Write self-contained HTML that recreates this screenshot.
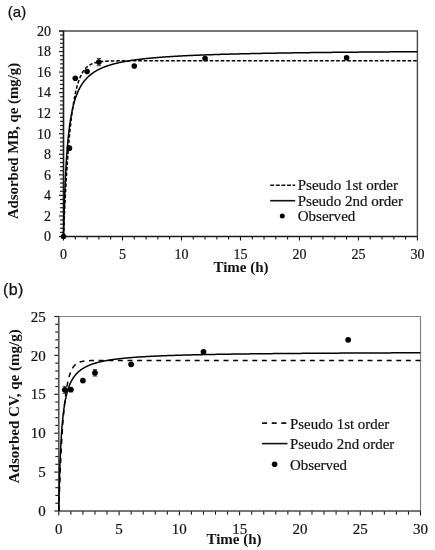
<!DOCTYPE html>
<html><head><meta charset="utf-8"><style>
html,body{margin:0;padding:0;background:#fff;width:435px;height:550px;overflow:hidden}
svg{display:block;will-change:transform}
.t{font-family:"Liberation Serif",serif;font-size:14px;fill:#111;stroke:#111;stroke-width:0.2px}
.h{font-family:"Liberation Sans",sans-serif;font-size:15px;fill:#111;stroke:#111;stroke-width:0.25px}
.yl{font-family:"Liberation Serif",serif;font-size:15px;font-weight:bold;fill:#111}
.lg{font-family:"Liberation Serif",serif;font-size:15.05px;fill:#111;stroke:#111;stroke-width:0.2px}
.xl{font-family:"Liberation Serif",serif;font-size:15px;font-weight:bold;fill:#111}
</style></head><body>
<svg width="435" height="550" viewBox="0 0 435 550">
<path d="M59.00 31.00H417.40V236.50" fill="none" stroke="#4a4a4a" stroke-width="1.4"/>
<line x1="59.00" y1="236.50" x2="63.50" y2="236.50" stroke="#222" stroke-width="1.2"/>
<line x1="60.00" y1="232.39" x2="63.50" y2="232.39" stroke="#222" stroke-width="1.2"/>
<line x1="60.00" y1="228.28" x2="63.50" y2="228.28" stroke="#222" stroke-width="1.2"/>
<line x1="60.00" y1="224.17" x2="63.50" y2="224.17" stroke="#222" stroke-width="1.2"/>
<line x1="60.00" y1="220.06" x2="63.50" y2="220.06" stroke="#222" stroke-width="1.2"/>
<line x1="59.00" y1="215.95" x2="63.50" y2="215.95" stroke="#222" stroke-width="1.2"/>
<line x1="60.00" y1="211.84" x2="63.50" y2="211.84" stroke="#222" stroke-width="1.2"/>
<line x1="60.00" y1="207.73" x2="63.50" y2="207.73" stroke="#222" stroke-width="1.2"/>
<line x1="60.00" y1="203.62" x2="63.50" y2="203.62" stroke="#222" stroke-width="1.2"/>
<line x1="60.00" y1="199.51" x2="63.50" y2="199.51" stroke="#222" stroke-width="1.2"/>
<line x1="59.00" y1="195.40" x2="63.50" y2="195.40" stroke="#222" stroke-width="1.2"/>
<line x1="60.00" y1="191.29" x2="63.50" y2="191.29" stroke="#222" stroke-width="1.2"/>
<line x1="60.00" y1="187.18" x2="63.50" y2="187.18" stroke="#222" stroke-width="1.2"/>
<line x1="60.00" y1="183.07" x2="63.50" y2="183.07" stroke="#222" stroke-width="1.2"/>
<line x1="60.00" y1="178.96" x2="63.50" y2="178.96" stroke="#222" stroke-width="1.2"/>
<line x1="59.00" y1="174.85" x2="63.50" y2="174.85" stroke="#222" stroke-width="1.2"/>
<line x1="60.00" y1="170.74" x2="63.50" y2="170.74" stroke="#222" stroke-width="1.2"/>
<line x1="60.00" y1="166.63" x2="63.50" y2="166.63" stroke="#222" stroke-width="1.2"/>
<line x1="60.00" y1="162.52" x2="63.50" y2="162.52" stroke="#222" stroke-width="1.2"/>
<line x1="60.00" y1="158.41" x2="63.50" y2="158.41" stroke="#222" stroke-width="1.2"/>
<line x1="59.00" y1="154.30" x2="63.50" y2="154.30" stroke="#222" stroke-width="1.2"/>
<line x1="60.00" y1="150.19" x2="63.50" y2="150.19" stroke="#222" stroke-width="1.2"/>
<line x1="60.00" y1="146.08" x2="63.50" y2="146.08" stroke="#222" stroke-width="1.2"/>
<line x1="60.00" y1="141.97" x2="63.50" y2="141.97" stroke="#222" stroke-width="1.2"/>
<line x1="60.00" y1="137.86" x2="63.50" y2="137.86" stroke="#222" stroke-width="1.2"/>
<line x1="59.00" y1="133.75" x2="63.50" y2="133.75" stroke="#222" stroke-width="1.2"/>
<line x1="60.00" y1="129.64" x2="63.50" y2="129.64" stroke="#222" stroke-width="1.2"/>
<line x1="60.00" y1="125.53" x2="63.50" y2="125.53" stroke="#222" stroke-width="1.2"/>
<line x1="60.00" y1="121.42" x2="63.50" y2="121.42" stroke="#222" stroke-width="1.2"/>
<line x1="60.00" y1="117.31" x2="63.50" y2="117.31" stroke="#222" stroke-width="1.2"/>
<line x1="59.00" y1="113.20" x2="63.50" y2="113.20" stroke="#222" stroke-width="1.2"/>
<line x1="60.00" y1="109.09" x2="63.50" y2="109.09" stroke="#222" stroke-width="1.2"/>
<line x1="60.00" y1="104.98" x2="63.50" y2="104.98" stroke="#222" stroke-width="1.2"/>
<line x1="60.00" y1="100.87" x2="63.50" y2="100.87" stroke="#222" stroke-width="1.2"/>
<line x1="60.00" y1="96.76" x2="63.50" y2="96.76" stroke="#222" stroke-width="1.2"/>
<line x1="59.00" y1="92.65" x2="63.50" y2="92.65" stroke="#222" stroke-width="1.2"/>
<line x1="60.00" y1="88.54" x2="63.50" y2="88.54" stroke="#222" stroke-width="1.2"/>
<line x1="60.00" y1="84.43" x2="63.50" y2="84.43" stroke="#222" stroke-width="1.2"/>
<line x1="60.00" y1="80.32" x2="63.50" y2="80.32" stroke="#222" stroke-width="1.2"/>
<line x1="60.00" y1="76.21" x2="63.50" y2="76.21" stroke="#222" stroke-width="1.2"/>
<line x1="59.00" y1="72.10" x2="63.50" y2="72.10" stroke="#222" stroke-width="1.2"/>
<line x1="60.00" y1="67.99" x2="63.50" y2="67.99" stroke="#222" stroke-width="1.2"/>
<line x1="60.00" y1="63.88" x2="63.50" y2="63.88" stroke="#222" stroke-width="1.2"/>
<line x1="60.00" y1="59.77" x2="63.50" y2="59.77" stroke="#222" stroke-width="1.2"/>
<line x1="60.00" y1="55.66" x2="63.50" y2="55.66" stroke="#222" stroke-width="1.2"/>
<line x1="59.00" y1="51.55" x2="63.50" y2="51.55" stroke="#222" stroke-width="1.2"/>
<line x1="60.00" y1="47.44" x2="63.50" y2="47.44" stroke="#222" stroke-width="1.2"/>
<line x1="60.00" y1="43.33" x2="63.50" y2="43.33" stroke="#222" stroke-width="1.2"/>
<line x1="60.00" y1="39.22" x2="63.50" y2="39.22" stroke="#222" stroke-width="1.2"/>
<line x1="60.00" y1="35.11" x2="63.50" y2="35.11" stroke="#222" stroke-width="1.2"/>
<line x1="59.00" y1="31.00" x2="63.50" y2="31.00" stroke="#222" stroke-width="1.2"/>
<line x1="63.50" y1="236.50" x2="63.50" y2="240.50" stroke="#000" stroke-width="1"/>
<line x1="75.30" y1="236.50" x2="75.30" y2="239.50" stroke="#000" stroke-width="1"/>
<line x1="87.09" y1="236.50" x2="87.09" y2="239.50" stroke="#000" stroke-width="1"/>
<line x1="98.89" y1="236.50" x2="98.89" y2="239.50" stroke="#000" stroke-width="1"/>
<line x1="110.69" y1="236.50" x2="110.69" y2="239.50" stroke="#000" stroke-width="1"/>
<line x1="122.48" y1="236.50" x2="122.48" y2="240.50" stroke="#000" stroke-width="1"/>
<line x1="134.28" y1="236.50" x2="134.28" y2="239.50" stroke="#000" stroke-width="1"/>
<line x1="146.08" y1="236.50" x2="146.08" y2="239.50" stroke="#000" stroke-width="1"/>
<line x1="157.87" y1="236.50" x2="157.87" y2="239.50" stroke="#000" stroke-width="1"/>
<line x1="169.67" y1="236.50" x2="169.67" y2="239.50" stroke="#000" stroke-width="1"/>
<line x1="181.47" y1="236.50" x2="181.47" y2="240.50" stroke="#000" stroke-width="1"/>
<line x1="193.26" y1="236.50" x2="193.26" y2="239.50" stroke="#000" stroke-width="1"/>
<line x1="205.06" y1="236.50" x2="205.06" y2="239.50" stroke="#000" stroke-width="1"/>
<line x1="216.86" y1="236.50" x2="216.86" y2="239.50" stroke="#000" stroke-width="1"/>
<line x1="228.65" y1="236.50" x2="228.65" y2="239.50" stroke="#000" stroke-width="1"/>
<line x1="240.45" y1="236.50" x2="240.45" y2="240.50" stroke="#000" stroke-width="1"/>
<line x1="252.25" y1="236.50" x2="252.25" y2="239.50" stroke="#000" stroke-width="1"/>
<line x1="264.04" y1="236.50" x2="264.04" y2="239.50" stroke="#000" stroke-width="1"/>
<line x1="275.84" y1="236.50" x2="275.84" y2="239.50" stroke="#000" stroke-width="1"/>
<line x1="287.64" y1="236.50" x2="287.64" y2="239.50" stroke="#000" stroke-width="1"/>
<line x1="299.43" y1="236.50" x2="299.43" y2="240.50" stroke="#000" stroke-width="1"/>
<line x1="311.23" y1="236.50" x2="311.23" y2="239.50" stroke="#000" stroke-width="1"/>
<line x1="323.03" y1="236.50" x2="323.03" y2="239.50" stroke="#000" stroke-width="1"/>
<line x1="334.82" y1="236.50" x2="334.82" y2="239.50" stroke="#000" stroke-width="1"/>
<line x1="346.62" y1="236.50" x2="346.62" y2="239.50" stroke="#000" stroke-width="1"/>
<line x1="358.42" y1="236.50" x2="358.42" y2="240.50" stroke="#000" stroke-width="1"/>
<line x1="370.21" y1="236.50" x2="370.21" y2="239.50" stroke="#000" stroke-width="1"/>
<line x1="382.01" y1="236.50" x2="382.01" y2="239.50" stroke="#000" stroke-width="1"/>
<line x1="393.81" y1="236.50" x2="393.81" y2="239.50" stroke="#000" stroke-width="1"/>
<line x1="405.60" y1="236.50" x2="405.60" y2="239.50" stroke="#000" stroke-width="1"/>
<line x1="417.40" y1="236.50" x2="417.40" y2="240.50" stroke="#000" stroke-width="1"/>
<path d="M63.50 31.00V236.50H417.40" fill="none" stroke="#1a1a1a" stroke-width="1.6"/>
<text x="51.00" y="241.33" text-anchor="end" class="t" style="font-size:14px">0</text>
<text x="51.00" y="220.78" text-anchor="end" class="t" style="font-size:14px">2</text>
<text x="51.00" y="200.23" text-anchor="end" class="t" style="font-size:14px">4</text>
<text x="51.00" y="179.68" text-anchor="end" class="t" style="font-size:14px">6</text>
<text x="51.00" y="159.13" text-anchor="end" class="t" style="font-size:14px">8</text>
<text x="51.00" y="138.58" text-anchor="end" class="t" style="font-size:14px">10</text>
<text x="51.00" y="118.03" text-anchor="end" class="t" style="font-size:14px">12</text>
<text x="51.00" y="97.48" text-anchor="end" class="t" style="font-size:14px">14</text>
<text x="51.00" y="76.93" text-anchor="end" class="t" style="font-size:14px">16</text>
<text x="51.00" y="56.38" text-anchor="end" class="t" style="font-size:14px">18</text>
<text x="51.00" y="35.83" text-anchor="end" class="t" style="font-size:14px">20</text>
<text x="63.50" y="259.40" text-anchor="middle" class="t" style="font-size:14px">0</text>
<text x="122.48" y="259.40" text-anchor="middle" class="t" style="font-size:14px">5</text>
<text x="181.47" y="259.40" text-anchor="middle" class="t" style="font-size:14px">10</text>
<text x="240.45" y="259.40" text-anchor="middle" class="t" style="font-size:14px">15</text>
<text x="299.43" y="259.40" text-anchor="middle" class="t" style="font-size:14px">20</text>
<text x="358.42" y="259.40" text-anchor="middle" class="t" style="font-size:14px">25</text>
<text x="417.40" y="259.40" text-anchor="middle" class="t" style="font-size:14px">30</text>
<polyline points="63.50,236.50 63.50,236.49 63.50,236.44 63.50,236.36 63.51,236.24 63.51,236.08 63.51,235.88 63.52,235.63 63.53,235.33 63.53,234.99 63.54,234.60 63.55,234.16 63.56,233.67 63.58,233.13 63.59,232.55 63.61,231.92 63.62,231.24 63.64,230.52 63.66,229.74 63.68,228.92 63.70,228.06 63.72,227.15 63.75,226.20 63.77,225.20 63.80,224.17 63.83,223.09 63.85,221.98 63.89,220.83 63.92,219.64 63.95,218.42 63.99,217.16 64.02,215.87 64.06,214.56 64.10,213.21 64.14,211.84 64.18,210.44 64.23,209.02 64.27,207.58 64.32,206.11 64.37,204.63 64.42,203.13 64.47,201.61 64.52,200.08 64.57,198.54 64.63,196.99 64.69,195.43 64.74,193.86 64.80,192.28 64.87,190.70 64.93,189.11 65.00,187.52 65.06,185.93 65.13,184.34 65.20,182.74 65.27,181.16 65.34,179.57 65.42,177.99 65.49,176.41 65.57,174.84 65.65,173.28 65.73,171.72 65.82,170.17 65.90,168.63 65.99,167.10 66.07,165.59 66.16,164.08 66.25,162.58 66.35,161.10 66.44,159.63 66.54,158.17 66.63,156.72 66.73,155.29 66.83,153.88 66.94,152.47 67.04,151.09 67.15,149.72 67.26,148.36 67.37,147.02 67.48,145.69 67.59,144.38 67.70,143.09 67.82,141.81 67.94,140.55 68.06,139.31 68.18,138.08 68.30,136.86 68.43,135.67 68.56,134.49 68.69,133.32 68.82,132.17 68.95,131.04 69.08,129.92 69.22,128.82 69.36,127.74 69.50,126.67 69.64,125.62 69.78,124.58 69.92,123.56 70.07,122.55 70.22,121.56 70.37,120.58 70.52,119.62 70.68,118.67 70.83,117.74 70.99,116.82 71.15,115.92 71.31,115.03 71.47,114.15 71.64,113.29 71.80,112.44 71.97,111.60 72.14,110.78 72.32,109.97 72.49,109.17 72.67,108.39 72.84,107.61 73.02,106.85 73.20,106.11 73.39,105.37 73.57,104.65 73.76,103.93 73.95,103.23 74.14,102.54 74.33,101.86 74.53,101.19 74.72,100.53 74.92,99.88 75.12,99.25 75.33,98.62 75.53,98.00 75.74,97.39 75.94,96.80 76.15,96.21 76.37,95.63 76.58,95.06 76.79,94.50 77.01,93.94 77.23,93.40 77.45,92.86 77.68,92.34 77.90,91.82 78.13,91.31 78.36,90.81 78.59,90.31 78.82,89.82 79.06,89.34 79.30,88.87 79.53,88.41 79.78,87.95 80.02,87.50 80.26,87.06 80.51,86.62 80.76,86.19 81.01,85.76 81.26,85.35 81.52,84.94 81.77,84.53 82.03,84.13 82.29,83.74 82.56,83.35 82.82,82.97 83.09,82.60 83.36,82.23 83.63,81.87 83.90,81.51 84.17,81.15 84.45,80.81 84.73,80.46 85.01,80.12 85.29,79.79 85.58,79.46 85.86,79.14 86.15,78.82 86.44,78.51 86.74,78.20 87.03,77.89 87.33,77.59 87.63,77.30 87.93,77.00 88.23,76.72 88.53,76.43 88.84,76.15 89.15,75.88 89.46,75.60 89.78,75.34 90.09,75.07 90.41,74.81 90.73,74.55 91.05,74.30 91.37,74.05 91.70,73.80 92.02,73.56 92.35,73.32 92.69,73.08 93.02,72.85 93.36,72.62 93.69,72.39 94.03,72.17 94.38,71.95 94.72,71.73 95.07,71.52 95.41,71.30 95.76,71.09 96.12,70.89 96.47,70.68 96.83,70.48 97.19,70.28 97.55,70.09 97.91,69.89 98.28,69.70 98.64,69.51 99.01,69.33 99.38,69.14 99.76,68.96 100.13,68.78 100.51,68.61 100.89,68.43 101.27,68.26 101.66,68.09 102.04,67.92 102.43,67.76 102.82,67.59 103.21,67.43 103.61,67.27 104.00,67.11 104.40,66.96 104.80,66.80 105.21,66.65 105.61,66.50 106.02,66.35 106.43,66.21 106.84,66.06 107.25,65.92 107.67,65.78 108.09,65.64 108.51,65.50 108.93,65.37 109.36,65.23 109.78,65.10 110.21,64.97 110.64,64.84 111.08,64.71 111.51,64.58 111.95,64.46 112.39,64.33 112.83,64.21 113.27,64.09 113.72,63.97 114.17,63.85 114.62,63.73 115.07,63.62 115.53,63.50 115.98,63.39 116.44,63.28 116.91,63.17 117.37,63.06 117.83,62.95 118.30,62.85 118.77,62.74 119.25,62.64 119.72,62.53 120.20,62.43 120.68,62.33 121.16,62.23 121.64,62.13 122.13,62.03 122.61,61.94 123.10,61.84 123.60,61.75 124.09,61.65 124.59,61.56 125.09,61.47 125.59,61.38 126.09,61.29 126.60,61.20 127.10,61.11 127.61,61.03 128.13,60.94 128.64,60.86 129.16,60.77 129.68,60.69 130.20,60.61 130.72,60.52 131.25,60.44 131.77,60.36 132.30,60.29 132.84,60.21 133.37,60.13 133.91,60.05 134.45,59.98 134.99,59.90 135.53,59.83 136.08,59.76 136.62,59.68 137.17,59.61 137.73,59.54 138.28,59.47 138.84,59.40 139.40,59.33 139.96,59.26 140.52,59.19 141.09,59.13 141.66,59.06 142.23,58.99 142.80,58.93 143.37,58.86 143.95,58.80 144.53,58.74 145.11,58.67 145.70,58.61 146.28,58.55 146.87,58.49 147.46,58.43 148.06,58.37 148.65,58.31 149.25,58.25 149.85,58.19 150.45,58.14 151.06,58.08 151.66,58.02 152.27,57.97 152.88,57.91 153.50,57.86 154.11,57.80 154.73,57.75 155.35,57.70 155.98,57.64 156.60,57.59 157.23,57.54 157.86,57.49 158.49,57.44 159.12,57.39 159.76,57.34 160.40,57.29 161.04,57.24 161.69,57.19 162.33,57.14 162.98,57.09 163.63,57.05 164.28,57.00 164.94,56.95 165.60,56.91 166.26,56.86 166.92,56.82 167.58,56.77 168.25,56.73 168.92,56.68 169.59,56.64 170.26,56.59 170.94,56.55 171.62,56.51 172.30,56.47 172.98,56.42 173.67,56.38 174.35,56.34 175.05,56.30 175.74,56.26 176.43,56.22 177.13,56.18 177.83,56.14 178.53,56.10 179.23,56.06 179.94,56.02 180.65,55.99 181.36,55.95 182.07,55.91 182.79,55.87 183.51,55.84 184.23,55.80 184.95,55.76 185.68,55.73 186.41,55.69 187.14,55.66 187.87,55.62 188.60,55.59 189.34,55.55 190.08,55.52 190.82,55.48 191.56,55.45 192.31,55.42 193.06,55.38 193.81,55.35 194.57,55.32 195.32,55.29 196.08,55.25 196.84,55.22 197.60,55.19 198.37,55.16 199.14,55.13 199.91,55.10 200.68,55.07 201.45,55.04 202.23,55.01 203.01,54.98 203.79,54.95 204.58,54.92 205.37,54.89 206.15,54.86 206.95,54.83 207.74,54.80 208.54,54.77 209.34,54.75 210.14,54.72 210.94,54.69 211.75,54.66 212.56,54.64 213.37,54.61 214.18,54.58 215.00,54.55 215.81,54.53 216.63,54.50 217.46,54.48 218.28,54.45 219.11,54.42 219.94,54.40 220.77,54.37 221.61,54.35 222.45,54.32 223.28,54.30 224.13,54.27 224.97,54.25 225.82,54.23 226.67,54.20 227.52,54.18 228.37,54.15 229.23,54.13 230.09,54.11 230.95,54.08 231.82,54.06 232.68,54.04 233.55,54.02 234.42,53.99 235.30,53.97 236.17,53.95 237.05,53.93 237.93,53.91 238.81,53.88 239.70,53.86 240.59,53.84 241.48,53.82 242.37,53.80 243.27,53.78 244.17,53.76 245.07,53.74 245.97,53.72 246.87,53.70 247.78,53.67 248.69,53.65 249.61,53.63 250.52,53.61 251.44,53.60 252.36,53.58 253.28,53.56 254.21,53.54 255.13,53.52 256.06,53.50 257.00,53.48 257.93,53.46 258.87,53.44 259.81,53.42 260.75,53.41 261.69,53.39 262.64,53.37 263.59,53.35 264.54,53.33 265.50,53.32 266.45,53.30 267.41,53.28 268.37,53.26 269.34,53.25 270.31,53.23 271.28,53.21 272.25,53.19 273.22,53.18 274.20,53.16 275.18,53.14 276.16,53.13 277.14,53.11 278.13,53.10 279.12,53.08 280.11,53.06 281.10,53.05 282.10,53.03 283.10,53.02 284.10,53.00 285.11,52.98 286.11,52.97 287.12,52.95 288.13,52.94 289.15,52.92 290.16,52.91 291.18,52.89 292.20,52.88 293.23,52.86 294.25,52.85 295.28,52.83 296.31,52.82 297.35,52.80 298.38,52.79 299.42,52.78 300.46,52.76 301.51,52.75 302.55,52.73 303.60,52.72 304.65,52.71 305.71,52.69 306.76,52.68 307.82,52.67 308.88,52.65 309.95,52.64 311.02,52.62 312.08,52.61 313.16,52.60 314.23,52.59 315.31,52.57 316.39,52.56 317.47,52.55 318.55,52.53 319.64,52.52 320.73,52.51 321.82,52.50 322.91,52.48 324.01,52.47 325.11,52.46 326.21,52.45 327.31,52.43 328.42,52.42 329.53,52.41 330.64,52.40 331.76,52.39 332.87,52.37 333.99,52.36 335.11,52.35 336.24,52.34 337.37,52.33 338.50,52.32 339.63,52.31 340.76,52.29 341.90,52.28 343.04,52.27 344.18,52.26 345.33,52.25 346.47,52.24 347.62,52.23 348.78,52.22 349.93,52.21 351.09,52.20 352.25,52.18 353.41,52.17 354.58,52.16 355.74,52.15 356.91,52.14 358.09,52.13 359.26,52.12 360.44,52.11 361.62,52.10 362.80,52.09 363.99,52.08 365.18,52.07 366.37,52.06 367.56,52.05 368.76,52.04 369.96,52.03 371.16,52.02 372.36,52.01 373.57,52.00 374.77,51.99 375.99,51.98 377.20,51.97 378.42,51.96 379.63,51.95 380.86,51.95 382.08,51.94 383.31,51.93 384.54,51.92 385.77,51.91 387.00,51.90 388.24,51.89 389.48,51.88 390.72,51.87 391.97,51.86 393.21,51.85 394.46,51.85 395.71,51.84 396.97,51.83 398.23,51.82 399.49,51.81 400.75,51.80 402.02,51.79 403.28,51.79 404.55,51.78 405.83,51.77 407.10,51.76 408.38,51.75 409.66,51.74 410.94,51.74 412.23,51.73 413.52,51.72 414.81,51.71 416.10,51.70 417.40,51.70" fill="none" stroke="#000" stroke-width="1.5"/>
<polyline points="63.50,236.50 63.50,236.49 63.50,236.47 63.50,236.42 63.51,236.36 63.51,236.26 63.51,236.15 63.52,236.01 63.53,235.84 63.53,235.64 63.54,235.42 63.55,235.17 63.56,234.89 63.58,234.58 63.59,234.24 63.61,233.87 63.62,233.48 63.64,233.05 63.66,232.59 63.68,232.10 63.70,231.59 63.72,231.04 63.75,230.46 63.77,229.85 63.80,229.21 63.83,228.54 63.85,227.84 63.89,227.12 63.92,226.36 63.95,225.57 63.99,224.75 64.02,223.90 64.06,223.03 64.10,222.13 64.14,221.19 64.18,220.23 64.23,219.25 64.27,218.23 64.32,217.19 64.37,216.12 64.42,215.03 64.47,213.91 64.52,212.77 64.57,211.60 64.63,210.41 64.69,209.20 64.74,207.96 64.80,206.70 64.87,205.42 64.93,204.12 65.00,202.80 65.06,201.46 65.13,200.10 65.20,198.73 65.27,197.33 65.34,195.92 65.42,194.49 65.49,193.05 65.57,191.59 65.65,190.12 65.73,188.64 65.82,187.14 65.90,185.63 65.99,184.11 66.07,182.58 66.16,181.05 66.25,179.50 66.35,177.94 66.44,176.38 66.54,174.81 66.63,173.24 66.73,171.66 66.83,170.07 66.94,168.48 67.04,166.89 67.15,165.30 67.26,163.71 67.37,162.12 67.48,160.52 67.59,158.93 67.70,157.34 67.82,155.75 67.94,154.16 68.06,152.58 68.18,151.01 68.30,149.43 68.43,147.87 68.56,146.31 68.69,144.75 68.82,143.21 68.95,141.67 69.08,140.14 69.22,138.62 69.36,137.11 69.50,135.61 69.64,134.12 69.78,132.64 69.92,131.17 70.07,129.72 70.22,128.28 70.37,126.85 70.52,125.43 70.68,124.03 70.83,122.65 70.99,121.27 71.15,119.92 71.31,118.58 71.47,117.25 71.64,115.94 71.80,114.65 71.97,113.37 72.14,112.11 72.32,110.87 72.49,109.64 72.67,108.43 72.84,107.24 73.02,106.07 73.20,104.91 73.39,103.78 73.57,102.66 73.76,101.55 73.95,100.47 74.14,99.41 74.33,98.36 74.53,97.33 74.72,96.33 74.92,95.34 75.12,94.36 75.33,93.41 75.53,92.48 75.74,91.56 75.94,90.66 76.15,89.78 76.37,88.92 76.58,88.08 76.79,87.25 77.01,86.44 77.23,85.66 77.45,84.88 77.68,84.13 77.90,83.39 78.13,82.67 78.36,81.97 78.59,81.28 78.82,80.62 79.06,79.96 79.30,79.33 79.53,78.71 79.78,78.10 80.02,77.51 80.26,76.94 80.51,76.38 80.76,75.84 81.01,75.31 81.26,74.80 81.52,74.30 81.77,73.82 82.03,73.35 82.29,72.89 82.56,72.44 82.82,72.01 83.09,71.60 83.36,71.19 83.63,70.80 83.90,70.42 84.17,70.05 84.45,69.69 84.73,69.34 85.01,69.01 85.29,68.69 85.58,68.37 85.86,68.07 86.15,67.78 86.44,67.49 86.74,67.22 87.03,66.96 87.33,66.70 87.63,66.45 87.93,66.22 88.23,65.99 88.53,65.77 88.84,65.56 89.15,65.35 89.46,65.15 89.78,64.96 90.09,64.78 90.41,64.60 90.73,64.44 91.05,64.27 91.37,64.12 91.70,63.97 92.02,63.82 92.35,63.68 92.69,63.55 93.02,63.42 93.36,63.30 93.69,63.18 94.03,63.07 94.38,62.96 94.72,62.86 95.07,62.76 95.41,62.66 95.76,62.57 96.12,62.49 96.47,62.40 96.83,62.32 97.19,62.25 97.55,62.17 97.91,62.11 98.28,62.04 98.64,61.98 99.01,61.92 99.38,61.86 99.76,61.80 100.13,61.75 100.51,61.70 100.89,61.65 101.27,61.61 101.66,61.56 102.04,61.52 102.43,61.48 102.82,61.45 103.21,61.41 103.61,61.38 104.00,61.35 104.40,61.32 104.80,61.29 105.21,61.26 105.61,61.23 106.02,61.21 106.43,61.19 106.84,61.16 107.25,61.14 107.67,61.12 108.09,61.10 108.51,61.09 108.93,61.07 109.36,61.05 109.78,61.04 110.21,61.02 110.64,61.01 111.08,61.00 111.51,60.99 111.95,60.97 112.39,60.96 112.83,60.95 113.27,60.94 113.72,60.94 114.17,60.93 114.62,60.92 115.07,60.91 115.53,60.90 115.98,60.90 116.44,60.89 116.91,60.88 117.37,60.88 117.83,60.87 118.30,60.87 118.77,60.86 119.25,60.86 119.72,60.86 120.20,60.85 120.68,60.85 121.16,60.85 121.64,60.84 122.13,60.84 122.61,60.84 123.10,60.83 123.60,60.83 124.09,60.83 124.59,60.83 125.09,60.82 125.59,60.82 126.09,60.82 126.60,60.82 127.10,60.82 127.61,60.82 128.13,60.82 128.64,60.81 129.16,60.81 129.68,60.81 130.20,60.81 130.72,60.81 131.25,60.81 131.77,60.81 132.30,60.81 132.84,60.81 133.37,60.81 133.91,60.81 134.45,60.80 134.99,60.80 135.53,60.80 136.08,60.80 136.62,60.80 137.17,60.80 137.73,60.80 138.28,60.80 138.84,60.80 139.40,60.80 139.96,60.80 140.52,60.80 141.09,60.80 141.66,60.80 142.23,60.80 142.80,60.80 143.37,60.80 143.95,60.80 144.53,60.80 145.11,60.80 145.70,60.80 146.28,60.80 146.87,60.80 147.46,60.80 148.06,60.80 148.65,60.80 149.25,60.80 149.85,60.80 150.45,60.80 151.06,60.80 151.66,60.80 152.27,60.80 152.88,60.80 153.50,60.80 154.11,60.80 154.73,60.80 155.35,60.80 155.98,60.80 156.60,60.80 157.23,60.80 157.86,60.80 158.49,60.80 159.12,60.80 159.76,60.80 160.40,60.80 161.04,60.80 161.69,60.80 162.33,60.80 162.98,60.80 163.63,60.80 164.28,60.80 164.94,60.80 165.60,60.80 166.26,60.80 166.92,60.80 167.58,60.80 168.25,60.80 168.92,60.80 169.59,60.80 170.26,60.80 170.94,60.80 171.62,60.80 172.30,60.80 172.98,60.80 173.67,60.80 174.35,60.80 175.05,60.80 175.74,60.80 176.43,60.80 177.13,60.80 177.83,60.80 178.53,60.80 179.23,60.80 179.94,60.80 180.65,60.80 181.36,60.80 182.07,60.80 182.79,60.80 183.51,60.80 184.23,60.80 184.95,60.80 185.68,60.80 186.41,60.80 187.14,60.80 187.87,60.80 188.60,60.80 189.34,60.80 190.08,60.80 190.82,60.80 191.56,60.80 192.31,60.80 193.06,60.80 193.81,60.80 194.57,60.80 195.32,60.80 196.08,60.80 196.84,60.80 197.60,60.80 198.37,60.80 199.14,60.80 199.91,60.80 200.68,60.80 201.45,60.80 202.23,60.80 203.01,60.80 203.79,60.80 204.58,60.80 205.37,60.80 206.15,60.80 206.95,60.80 207.74,60.80 208.54,60.80 209.34,60.80 210.14,60.80 210.94,60.80 211.75,60.80 212.56,60.80 213.37,60.80 214.18,60.80 215.00,60.80 215.81,60.80 216.63,60.80 217.46,60.80 218.28,60.80 219.11,60.80 219.94,60.80 220.77,60.80 221.61,60.80 222.45,60.80 223.28,60.80 224.13,60.80 224.97,60.80 225.82,60.80 226.67,60.80 227.52,60.80 228.37,60.80 229.23,60.80 230.09,60.80 230.95,60.80 231.82,60.80 232.68,60.80 233.55,60.80 234.42,60.80 235.30,60.80 236.17,60.80 237.05,60.80 237.93,60.80 238.81,60.80 239.70,60.80 240.59,60.80 241.48,60.80 242.37,60.80 243.27,60.80 244.17,60.80 245.07,60.80 245.97,60.80 246.87,60.80 247.78,60.80 248.69,60.80 249.61,60.80 250.52,60.80 251.44,60.80 252.36,60.80 253.28,60.80 254.21,60.80 255.13,60.80 256.06,60.80 257.00,60.80 257.93,60.80 258.87,60.80 259.81,60.80 260.75,60.80 261.69,60.80 262.64,60.80 263.59,60.80 264.54,60.80 265.50,60.80 266.45,60.80 267.41,60.80 268.37,60.80 269.34,60.80 270.31,60.80 271.28,60.80 272.25,60.80 273.22,60.80 274.20,60.80 275.18,60.80 276.16,60.80 277.14,60.80 278.13,60.80 279.12,60.80 280.11,60.80 281.10,60.80 282.10,60.80 283.10,60.80 284.10,60.80 285.11,60.80 286.11,60.80 287.12,60.80 288.13,60.80 289.15,60.80 290.16,60.80 291.18,60.80 292.20,60.80 293.23,60.80 294.25,60.80 295.28,60.80 296.31,60.80 297.35,60.80 298.38,60.80 299.42,60.80 300.46,60.80 301.51,60.80 302.55,60.80 303.60,60.80 304.65,60.80 305.71,60.80 306.76,60.80 307.82,60.80 308.88,60.80 309.95,60.80 311.02,60.80 312.08,60.80 313.16,60.80 314.23,60.80 315.31,60.80 316.39,60.80 317.47,60.80 318.55,60.80 319.64,60.80 320.73,60.80 321.82,60.80 322.91,60.80 324.01,60.80 325.11,60.80 326.21,60.80 327.31,60.80 328.42,60.80 329.53,60.80 330.64,60.80 331.76,60.80 332.87,60.80 333.99,60.80 335.11,60.80 336.24,60.80 337.37,60.80 338.50,60.80 339.63,60.80 340.76,60.80 341.90,60.80 343.04,60.80 344.18,60.80 345.33,60.80 346.47,60.80 347.62,60.80 348.78,60.80 349.93,60.80 351.09,60.80 352.25,60.80 353.41,60.80 354.58,60.80 355.74,60.80 356.91,60.80 358.09,60.80 359.26,60.80 360.44,60.80 361.62,60.80 362.80,60.80 363.99,60.80 365.18,60.80 366.37,60.80 367.56,60.80 368.76,60.80 369.96,60.80 371.16,60.80 372.36,60.80 373.57,60.80 374.77,60.80 375.99,60.80 377.20,60.80 378.42,60.80 379.63,60.80 380.86,60.80 382.08,60.80 383.31,60.80 384.54,60.80 385.77,60.80 387.00,60.80 388.24,60.80 389.48,60.80 390.72,60.80 391.97,60.80 393.21,60.80 394.46,60.80 395.71,60.80 396.97,60.80 398.23,60.80 399.49,60.80 400.75,60.80 402.02,60.80 403.28,60.80 404.55,60.80 405.83,60.80 407.10,60.80 408.38,60.80 409.66,60.80 410.94,60.80 412.23,60.80 413.52,60.80 414.81,60.80 416.10,60.80 417.40,60.80" fill="none" stroke="#000" stroke-width="1.5" stroke-dasharray="3.6 1.9"/>
<path d="M98.89 58.43V65.63M96.69 58.43H101.09M96.69 65.63H101.09" stroke="#333" stroke-width="0.9"/>
<circle cx="63.50" cy="236.50" r="2.8" fill="#000"/>
<circle cx="69.40" cy="148.13" r="2.8" fill="#000"/>
<circle cx="75.30" cy="78.26" r="2.8" fill="#000"/>
<circle cx="87.09" cy="71.59" r="2.8" fill="#000"/>
<circle cx="98.89" cy="62.03" r="2.8" fill="#000"/>
<circle cx="134.28" cy="65.94" r="2.8" fill="#000"/>
<circle cx="205.06" cy="58.54" r="2.8" fill="#000"/>
<circle cx="346.62" cy="57.72" r="2.8" fill="#000"/>
<path d="M54.30 316.50H420.50V511.00" fill="none" stroke="#858585" stroke-width="1.2"/>
<line x1="54.30" y1="511.00" x2="58.80" y2="511.00" stroke="#222" stroke-width="1.2"/>
<line x1="55.30" y1="503.22" x2="58.80" y2="503.22" stroke="#222" stroke-width="1.2"/>
<line x1="55.30" y1="495.44" x2="58.80" y2="495.44" stroke="#222" stroke-width="1.2"/>
<line x1="55.30" y1="487.66" x2="58.80" y2="487.66" stroke="#222" stroke-width="1.2"/>
<line x1="55.30" y1="479.88" x2="58.80" y2="479.88" stroke="#222" stroke-width="1.2"/>
<line x1="54.30" y1="472.10" x2="58.80" y2="472.10" stroke="#222" stroke-width="1.2"/>
<line x1="55.30" y1="464.32" x2="58.80" y2="464.32" stroke="#222" stroke-width="1.2"/>
<line x1="55.30" y1="456.54" x2="58.80" y2="456.54" stroke="#222" stroke-width="1.2"/>
<line x1="55.30" y1="448.76" x2="58.80" y2="448.76" stroke="#222" stroke-width="1.2"/>
<line x1="55.30" y1="440.98" x2="58.80" y2="440.98" stroke="#222" stroke-width="1.2"/>
<line x1="54.30" y1="433.20" x2="58.80" y2="433.20" stroke="#222" stroke-width="1.2"/>
<line x1="55.30" y1="425.42" x2="58.80" y2="425.42" stroke="#222" stroke-width="1.2"/>
<line x1="55.30" y1="417.64" x2="58.80" y2="417.64" stroke="#222" stroke-width="1.2"/>
<line x1="55.30" y1="409.86" x2="58.80" y2="409.86" stroke="#222" stroke-width="1.2"/>
<line x1="55.30" y1="402.08" x2="58.80" y2="402.08" stroke="#222" stroke-width="1.2"/>
<line x1="54.30" y1="394.30" x2="58.80" y2="394.30" stroke="#222" stroke-width="1.2"/>
<line x1="55.30" y1="386.52" x2="58.80" y2="386.52" stroke="#222" stroke-width="1.2"/>
<line x1="55.30" y1="378.74" x2="58.80" y2="378.74" stroke="#222" stroke-width="1.2"/>
<line x1="55.30" y1="370.96" x2="58.80" y2="370.96" stroke="#222" stroke-width="1.2"/>
<line x1="55.30" y1="363.18" x2="58.80" y2="363.18" stroke="#222" stroke-width="1.2"/>
<line x1="54.30" y1="355.40" x2="58.80" y2="355.40" stroke="#222" stroke-width="1.2"/>
<line x1="55.30" y1="347.62" x2="58.80" y2="347.62" stroke="#222" stroke-width="1.2"/>
<line x1="55.30" y1="339.84" x2="58.80" y2="339.84" stroke="#222" stroke-width="1.2"/>
<line x1="55.30" y1="332.06" x2="58.80" y2="332.06" stroke="#222" stroke-width="1.2"/>
<line x1="55.30" y1="324.28" x2="58.80" y2="324.28" stroke="#222" stroke-width="1.2"/>
<line x1="54.30" y1="316.50" x2="58.80" y2="316.50" stroke="#222" stroke-width="1.2"/>
<line x1="58.80" y1="511.00" x2="58.80" y2="515.40" stroke="#000" stroke-width="1"/>
<line x1="70.86" y1="511.00" x2="70.86" y2="514.60" stroke="#000" stroke-width="1"/>
<line x1="82.91" y1="511.00" x2="82.91" y2="514.60" stroke="#000" stroke-width="1"/>
<line x1="94.97" y1="511.00" x2="94.97" y2="514.60" stroke="#000" stroke-width="1"/>
<line x1="107.03" y1="511.00" x2="107.03" y2="514.60" stroke="#000" stroke-width="1"/>
<line x1="119.08" y1="511.00" x2="119.08" y2="515.40" stroke="#000" stroke-width="1"/>
<line x1="131.14" y1="511.00" x2="131.14" y2="514.60" stroke="#000" stroke-width="1"/>
<line x1="143.20" y1="511.00" x2="143.20" y2="514.60" stroke="#000" stroke-width="1"/>
<line x1="155.25" y1="511.00" x2="155.25" y2="514.60" stroke="#000" stroke-width="1"/>
<line x1="167.31" y1="511.00" x2="167.31" y2="514.60" stroke="#000" stroke-width="1"/>
<line x1="179.37" y1="511.00" x2="179.37" y2="515.40" stroke="#000" stroke-width="1"/>
<line x1="191.42" y1="511.00" x2="191.42" y2="514.60" stroke="#000" stroke-width="1"/>
<line x1="203.48" y1="511.00" x2="203.48" y2="514.60" stroke="#000" stroke-width="1"/>
<line x1="215.54" y1="511.00" x2="215.54" y2="514.60" stroke="#000" stroke-width="1"/>
<line x1="227.59" y1="511.00" x2="227.59" y2="514.60" stroke="#000" stroke-width="1"/>
<line x1="239.65" y1="511.00" x2="239.65" y2="515.40" stroke="#000" stroke-width="1"/>
<line x1="251.71" y1="511.00" x2="251.71" y2="514.60" stroke="#000" stroke-width="1"/>
<line x1="263.76" y1="511.00" x2="263.76" y2="514.60" stroke="#000" stroke-width="1"/>
<line x1="275.82" y1="511.00" x2="275.82" y2="514.60" stroke="#000" stroke-width="1"/>
<line x1="287.88" y1="511.00" x2="287.88" y2="514.60" stroke="#000" stroke-width="1"/>
<line x1="299.93" y1="511.00" x2="299.93" y2="515.40" stroke="#000" stroke-width="1"/>
<line x1="311.99" y1="511.00" x2="311.99" y2="514.60" stroke="#000" stroke-width="1"/>
<line x1="324.05" y1="511.00" x2="324.05" y2="514.60" stroke="#000" stroke-width="1"/>
<line x1="336.10" y1="511.00" x2="336.10" y2="514.60" stroke="#000" stroke-width="1"/>
<line x1="348.16" y1="511.00" x2="348.16" y2="514.60" stroke="#000" stroke-width="1"/>
<line x1="360.22" y1="511.00" x2="360.22" y2="515.40" stroke="#000" stroke-width="1"/>
<line x1="372.27" y1="511.00" x2="372.27" y2="514.60" stroke="#000" stroke-width="1"/>
<line x1="384.33" y1="511.00" x2="384.33" y2="514.60" stroke="#000" stroke-width="1"/>
<line x1="396.39" y1="511.00" x2="396.39" y2="514.60" stroke="#000" stroke-width="1"/>
<line x1="408.44" y1="511.00" x2="408.44" y2="514.60" stroke="#000" stroke-width="1"/>
<line x1="420.50" y1="511.00" x2="420.50" y2="515.40" stroke="#000" stroke-width="1"/>
<path d="M58.80 316.50V511.00H420.50" fill="none" stroke="#4a4a4a" stroke-width="1.5"/>
<text x="45.80" y="516.17" text-anchor="end" class="t" style="font-size:15px">0</text>
<text x="45.80" y="477.28" text-anchor="end" class="t" style="font-size:15px">5</text>
<text x="45.80" y="438.38" text-anchor="end" class="t" style="font-size:15px">10</text>
<text x="45.80" y="399.48" text-anchor="end" class="t" style="font-size:15px">15</text>
<text x="45.80" y="360.57" text-anchor="end" class="t" style="font-size:15px">20</text>
<text x="45.80" y="321.68" text-anchor="end" class="t" style="font-size:15px">25</text>
<text x="58.80" y="534.00" text-anchor="middle" class="t" style="font-size:15px">0</text>
<text x="119.08" y="534.00" text-anchor="middle" class="t" style="font-size:15px">5</text>
<text x="179.37" y="534.00" text-anchor="middle" class="t" style="font-size:15px">10</text>
<text x="239.65" y="534.00" text-anchor="middle" class="t" style="font-size:15px">15</text>
<text x="299.93" y="534.00" text-anchor="middle" class="t" style="font-size:15px">20</text>
<text x="360.22" y="534.00" text-anchor="middle" class="t" style="font-size:15px">25</text>
<text x="420.50" y="534.00" text-anchor="middle" class="t" style="font-size:15px">30</text>
<polyline points="58.80,511.00 58.80,510.98 58.80,510.93 58.80,510.83 58.81,510.67 58.81,510.47 58.81,510.20 58.82,509.88 58.83,509.51 58.84,509.07 58.84,508.58 58.85,508.02 58.87,507.41 58.88,506.73 58.89,506.00 58.91,505.21 58.92,504.37 58.94,503.46 58.96,502.51 58.98,501.50 59.00,500.44 59.03,499.33 59.05,498.17 59.08,496.97 59.10,495.73 59.13,494.44 59.16,493.12 59.19,491.75 59.23,490.36 59.26,488.93 59.30,487.47 59.33,485.99 59.37,484.48 59.41,482.95 59.45,481.40 59.50,479.83 59.54,478.25 59.59,476.65 59.64,475.05 59.68,473.43 59.74,471.81 59.79,470.18 59.84,468.55 59.90,466.91 59.95,465.28 60.01,463.65 60.07,462.03 60.13,460.41 60.20,458.80 60.26,457.19 60.33,455.59 60.40,454.01 60.47,452.43 60.54,450.87 60.61,449.32 60.68,447.79 60.76,446.27 60.84,444.77 60.92,443.28 61.00,441.81 61.08,440.36 61.17,438.93 61.25,437.51 61.34,436.12 61.43,434.74 61.52,433.38 61.61,432.04 61.71,430.72 61.81,429.42 61.90,428.14 62.00,426.88 62.11,425.64 62.21,424.43 62.31,423.23 62.42,422.05 62.53,420.89 62.64,419.75 62.75,418.63 62.86,417.53 62.98,416.44 63.10,415.38 63.22,414.34 63.34,413.31 63.46,412.31 63.58,411.32 63.71,410.35 63.84,409.40 63.97,408.46 64.10,407.54 64.23,406.64 64.37,405.76 64.51,404.89 64.64,404.04 64.79,403.21 64.93,402.39 65.07,401.59 65.22,400.80 65.37,400.03 65.52,399.27 65.67,398.52 65.82,397.79 65.98,397.08 66.13,396.38 66.29,395.69 66.45,395.01 66.62,394.35 66.78,393.70 66.95,393.06 67.12,392.43 67.29,391.82 67.46,391.22 67.63,390.63 67.81,390.05 67.99,389.48 68.17,388.92 68.35,388.37 68.53,387.84 68.72,387.31 68.91,386.79 69.09,386.29 69.29,385.79 69.48,385.30 69.67,384.82 69.87,384.35 70.07,383.89 70.27,383.43 70.47,382.99 70.68,382.55 70.89,382.12 71.09,381.70 71.31,381.29 71.52,380.88 71.73,380.48 71.95,380.09 72.17,379.71 72.39,379.33 72.61,378.96 72.83,378.59 73.06,378.23 73.29,377.88 73.52,377.54 73.75,377.20 73.99,376.87 74.22,376.54 74.46,376.22 74.70,375.90 74.94,375.59 75.19,375.28 75.43,374.98 75.68,374.69 75.93,374.40 76.18,374.11 76.44,373.83 76.70,373.56 76.95,373.29 77.21,373.02 77.48,372.76 77.74,372.50 78.01,372.25 78.28,372.00 78.55,371.75 78.82,371.51 79.09,371.28 79.37,371.04 79.65,370.81 79.93,370.59 80.21,370.36 80.50,370.15 80.78,369.93 81.07,369.72 81.36,369.51 81.66,369.31 81.95,369.10 82.25,368.91 82.55,368.71 82.85,368.52 83.15,368.33 83.46,368.14 83.77,367.96 84.08,367.78 84.39,367.60 84.70,367.42 85.02,367.25 85.33,367.08 85.65,366.91 85.98,366.75 86.30,366.58 86.63,366.42 86.96,366.27 87.29,366.11 87.62,365.96 87.95,365.81 88.29,365.66 88.63,365.51 88.97,365.37 89.31,365.22 89.66,365.08 90.01,364.95 90.36,364.81 90.71,364.67 91.06,364.54 91.42,364.41 91.78,364.28 92.14,364.16 92.50,364.03 92.86,363.91 93.23,363.78 93.60,363.66 93.97,363.55 94.34,363.43 94.72,363.31 95.09,363.20 95.47,363.09 95.86,362.98 96.24,362.87 96.63,362.76 97.01,362.65 97.40,362.55 97.80,362.45 98.19,362.34 98.59,362.24 98.99,362.14 99.39,362.05 99.79,361.95 100.20,361.85 100.60,361.76 101.01,361.67 101.43,361.57 101.84,361.48 102.26,361.39 102.67,361.30 103.10,361.22 103.52,361.13 103.94,361.05 104.37,360.96 104.80,360.88 105.23,360.80 105.67,360.72 106.10,360.64 106.54,360.56 106.98,360.48 107.42,360.40 107.87,360.32 108.32,360.25 108.77,360.18 109.22,360.10 109.67,360.03 110.13,359.96 110.59,359.89 111.05,359.82 111.51,359.75 111.97,359.68 112.44,359.61 112.91,359.54 113.38,359.48 113.86,359.41 114.33,359.35 114.81,359.29 115.29,359.22 115.77,359.16 116.26,359.10 116.75,359.04 117.24,358.98 117.73,358.92 118.22,358.86 118.72,358.80 119.22,358.74 119.72,358.69 120.22,358.63 120.73,358.58 121.23,358.52 121.74,358.47 122.26,358.41 122.77,358.36 123.29,358.31 123.81,358.26 124.33,358.20 124.85,358.15 125.38,358.10 125.90,358.05 126.43,358.00 126.97,357.96 127.50,357.91 128.04,357.86 128.58,357.81 129.12,357.77 129.66,357.72 130.21,357.67 130.76,357.63 131.31,357.58 131.86,357.54 132.42,357.50 132.98,357.45 133.54,357.41 134.10,357.37 134.66,357.33 135.23,357.28 135.80,357.24 136.37,357.20 136.94,357.16 137.52,357.12 138.10,357.08 138.68,357.04 139.26,357.00 139.85,356.97 140.43,356.93 141.02,356.89 141.62,356.85 142.21,356.82 142.81,356.78 143.41,356.74 144.01,356.71 144.61,356.67 145.22,356.64 145.83,356.60 146.44,356.57 147.05,356.53 147.67,356.50 148.29,356.47 148.91,356.43 149.53,356.40 150.15,356.37 150.78,356.34 151.41,356.31 152.04,356.27 152.68,356.24 153.31,356.21 153.95,356.18 154.59,356.15 155.24,356.12 155.88,356.09 156.53,356.06 157.18,356.03 157.84,356.00 158.49,355.97 159.15,355.95 159.81,355.92 160.47,355.89 161.14,355.86 161.80,355.83 162.47,355.81 163.15,355.78 163.82,355.75 164.50,355.73 165.18,355.70 165.86,355.67 166.54,355.65 167.23,355.62 167.92,355.60 168.61,355.57 169.30,355.55 170.00,355.52 170.69,355.50 171.40,355.48 172.10,355.45 172.80,355.43 173.51,355.40 174.22,355.38 174.93,355.36 175.65,355.33 176.37,355.31 177.09,355.29 177.81,355.27 178.53,355.24 179.26,355.22 179.99,355.20 180.72,355.18 181.45,355.16 182.19,355.14 182.93,355.12 183.67,355.09 184.41,355.07 185.16,355.05 185.91,355.03 186.66,355.01 187.41,354.99 188.17,354.97 188.93,354.95 189.69,354.93 190.45,354.91 191.22,354.89 191.98,354.88 192.75,354.86 193.53,354.84 194.30,354.82 195.08,354.80 195.86,354.78 196.64,354.76 197.43,354.75 198.21,354.73 199.00,354.71 199.80,354.69 200.59,354.67 201.39,354.66 202.19,354.64 202.99,354.62 203.79,354.61 204.60,354.59 205.41,354.57 206.22,354.56 207.03,354.54 207.85,354.52 208.67,354.51 209.49,354.49 210.31,354.48 211.14,354.46 211.97,354.44 212.80,354.43 213.63,354.41 214.47,354.40 215.31,354.38 216.15,354.37 216.99,354.35 217.84,354.34 218.69,354.32 219.54,354.31 220.39,354.29 221.25,354.28 222.11,354.27 222.97,354.25 223.83,354.24 224.70,354.22 225.56,354.21 226.43,354.20 227.31,354.18 228.18,354.17 229.06,354.15 229.94,354.14 230.83,354.13 231.71,354.11 232.60,354.10 233.49,354.09 234.38,354.08 235.28,354.06 236.18,354.05 237.08,354.04 237.98,354.02 238.88,354.01 239.79,354.00 240.70,353.99 241.61,353.98 242.53,353.96 243.45,353.95 244.37,353.94 245.29,353.93 246.22,353.92 247.14,353.90 248.07,353.89 249.01,353.88 249.94,353.87 250.88,353.86 251.82,353.85 252.76,353.84 253.71,353.82 254.66,353.81 255.61,353.80 256.56,353.79 257.52,353.78 258.47,353.77 259.43,353.76 260.40,353.75 261.36,353.74 262.33,353.73 263.30,353.72 264.27,353.71 265.25,353.70 266.23,353.69 267.21,353.68 268.19,353.67 269.18,353.66 270.16,353.65 271.15,353.64 272.15,353.63 273.14,353.62 274.14,353.61 275.14,353.60 276.15,353.59 277.15,353.58 278.16,353.57 279.17,353.56 280.18,353.55 281.20,353.54 282.22,353.53 283.24,353.52 284.26,353.52 285.29,353.51 286.32,353.50 287.35,353.49 288.38,353.48 289.42,353.47 290.46,353.46 291.50,353.45 292.54,353.44 293.59,353.44 294.64,353.43 295.69,353.42 296.74,353.41 297.80,353.40 298.86,353.39 299.92,353.39 300.99,353.38 302.05,353.37 303.12,353.36 304.19,353.35 305.27,353.35 306.35,353.34 307.43,353.33 308.51,353.32 309.59,353.31 310.68,353.31 311.77,353.30 312.86,353.29 313.96,353.28 315.06,353.28 316.16,353.27 317.26,353.26 318.36,353.25 319.47,353.25 320.58,353.24 321.70,353.23 322.81,353.23 323.93,353.22 325.05,353.21 326.17,353.20 327.30,353.20 328.43,353.19 329.56,353.18 330.69,353.18 331.83,353.17 332.97,353.16 334.11,353.16 335.25,353.15 336.40,353.14 337.55,353.14 338.70,353.13 339.86,353.12 341.01,353.12 342.17,353.11 343.34,353.10 344.50,353.10 345.67,353.09 346.84,353.08 348.01,353.08 349.19,353.07 350.36,353.06 351.54,353.06 352.73,353.05 353.91,353.05 355.10,353.04 356.29,353.03 357.49,353.03 358.68,353.02 359.88,353.02 361.08,353.01 362.29,353.00 363.49,353.00 364.70,352.99 365.91,352.99 367.13,352.98 368.34,352.98 369.56,352.97 370.79,352.96 372.01,352.96 373.24,352.95 374.47,352.95 375.70,352.94 376.94,352.94 378.17,352.93 379.41,352.93 380.66,352.92 381.90,352.91 383.15,352.91 384.40,352.90 385.66,352.90 386.91,352.89 388.17,352.89 389.43,352.88 390.70,352.88 391.96,352.87 393.23,352.87 394.50,352.86 395.78,352.86 397.06,352.85 398.34,352.85 399.62,352.84 400.90,352.84 402.19,352.83 403.48,352.83 404.78,352.82 406.07,352.82 407.37,352.81 408.67,352.81 409.97,352.80 411.28,352.80 412.59,352.79 413.90,352.79 415.22,352.78 416.53,352.78 417.85,352.78 419.18,352.77 420.50,352.77" fill="none" stroke="#000" stroke-width="1.5"/>
<polyline points="58.80,511.00 58.80,510.99 58.80,510.96 58.80,510.90 58.81,510.81 58.81,510.69 58.81,510.53 58.82,510.35 58.83,510.12 58.84,509.86 58.84,509.57 58.85,509.24 58.87,508.87 58.88,508.46 58.89,508.01 58.91,507.53 58.92,507.01 58.94,506.45 58.96,505.85 58.98,505.21 59.00,504.53 59.03,503.82 59.05,503.07 59.08,502.28 59.10,501.45 59.13,500.58 59.16,499.68 59.19,498.74 59.23,497.76 59.26,496.75 59.30,495.71 59.33,494.63 59.37,493.52 59.41,492.37 59.45,491.19 59.50,489.98 59.54,488.75 59.59,487.48 59.64,486.18 59.68,484.85 59.74,483.50 59.79,482.12 59.84,480.72 59.90,479.30 59.95,477.85 60.01,476.38 60.07,474.89 60.13,473.37 60.20,471.85 60.26,470.30 60.33,468.74 60.40,467.16 60.47,465.57 60.54,463.96 60.61,462.35 60.68,460.72 60.76,459.09 60.84,457.45 60.92,455.80 61.00,454.14 61.08,452.49 61.17,450.82 61.25,449.16 61.34,447.49 61.43,445.83 61.52,444.17 61.61,442.50 61.71,440.85 61.81,439.19 61.90,437.54 62.00,435.90 62.11,434.27 62.21,432.64 62.31,431.03 62.42,429.42 62.53,427.83 62.64,426.24 62.75,424.67 62.86,423.12 62.98,421.57 63.10,420.05 63.22,418.54 63.34,417.04 63.46,415.57 63.58,414.11 63.71,412.67 63.84,411.25 63.97,409.84 64.10,408.46 64.23,407.10 64.37,405.76 64.51,404.44 64.64,403.14 64.79,401.87 64.93,400.62 65.07,399.38 65.22,398.18 65.37,396.99 65.52,395.83 65.67,394.69 65.82,393.58 65.98,392.49 66.13,391.42 66.29,390.37 66.45,389.35 66.62,388.36 66.78,387.38 66.95,386.43 67.12,385.50 67.29,384.60 67.46,383.72 67.63,382.86 67.81,382.03 67.99,381.22 68.17,380.43 68.35,379.66 68.53,378.91 68.72,378.19 68.91,377.49 69.09,376.81 69.29,376.15 69.48,375.51 69.67,374.89 69.87,374.28 70.07,373.70 70.27,373.14 70.47,372.60 70.68,372.07 70.89,371.57 71.09,371.08 71.31,370.61 71.52,370.15 71.73,369.71 71.95,369.29 72.17,368.89 72.39,368.49 72.61,368.12 72.83,367.76 73.06,367.41 73.29,367.07 73.52,366.75 73.75,366.45 73.99,366.15 74.22,365.87 74.46,365.60 74.70,365.34 74.94,365.09 75.19,364.85 75.43,364.62 75.68,364.41 75.93,364.20 76.18,364.00 76.44,363.81 76.70,363.63 76.95,363.46 77.21,363.30 77.48,363.14 77.74,362.99 78.01,362.85 78.28,362.71 78.55,362.59 78.82,362.47 79.09,362.35 79.37,362.24 79.65,362.14 79.93,362.04 80.21,361.94 80.50,361.86 80.78,361.77 81.07,361.69 81.36,361.62 81.66,361.55 81.95,361.48 82.25,361.42 82.55,361.36 82.85,361.30 83.15,361.25 83.46,361.20 83.77,361.15 84.08,361.10 84.39,361.06 84.70,361.02 85.02,360.98 85.33,360.95 85.65,360.92 85.98,360.89 86.30,360.86 86.63,360.83 86.96,360.80 87.29,360.78 87.62,360.76 87.95,360.74 88.29,360.72 88.63,360.70 88.97,360.68 89.31,360.67 89.66,360.65 90.01,360.64 90.36,360.62 90.71,360.61 91.06,360.60 91.42,360.59 91.78,360.58 92.14,360.57 92.50,360.56 92.86,360.55 93.23,360.55 93.60,360.54 93.97,360.53 94.34,360.53 94.72,360.52 95.09,360.52 95.47,360.51 95.86,360.51 96.24,360.50 96.63,360.50 97.01,360.50 97.40,360.49 97.80,360.49 98.19,360.49 98.59,360.49 98.99,360.48 99.39,360.48 99.79,360.48 100.20,360.48 100.60,360.48 101.01,360.47 101.43,360.47 101.84,360.47 102.26,360.47 102.67,360.47 103.10,360.47 103.52,360.47 103.94,360.47 104.37,360.47 104.80,360.46 105.23,360.46 105.67,360.46 106.10,360.46 106.54,360.46 106.98,360.46 107.42,360.46 107.87,360.46 108.32,360.46 108.77,360.46 109.22,360.46 109.67,360.46 110.13,360.46 110.59,360.46 111.05,360.46 111.51,360.46 111.97,360.46 112.44,360.46 112.91,360.46 113.38,360.46 113.86,360.46 114.33,360.46 114.81,360.46 115.29,360.46 115.77,360.46 116.26,360.46 116.75,360.46 117.24,360.46 117.73,360.46 118.22,360.46 118.72,360.46 119.22,360.46 119.72,360.46 120.22,360.46 120.73,360.46 121.23,360.46 121.74,360.46 122.26,360.46 122.77,360.46 123.29,360.46 123.81,360.46 124.33,360.46 124.85,360.46 125.38,360.46 125.90,360.46 126.43,360.46 126.97,360.46 127.50,360.46 128.04,360.46 128.58,360.46 129.12,360.46 129.66,360.46 130.21,360.46 130.76,360.46 131.31,360.46 131.86,360.46 132.42,360.46 132.98,360.46 133.54,360.46 134.10,360.46 134.66,360.46 135.23,360.46 135.80,360.46 136.37,360.46 136.94,360.46 137.52,360.46 138.10,360.46 138.68,360.46 139.26,360.46 139.85,360.46 140.43,360.46 141.02,360.46 141.62,360.46 142.21,360.46 142.81,360.46 143.41,360.46 144.01,360.46 144.61,360.46 145.22,360.46 145.83,360.46 146.44,360.46 147.05,360.46 147.67,360.46 148.29,360.46 148.91,360.46 149.53,360.46 150.15,360.46 150.78,360.46 151.41,360.46 152.04,360.46 152.68,360.46 153.31,360.46 153.95,360.46 154.59,360.46 155.24,360.46 155.88,360.46 156.53,360.46 157.18,360.46 157.84,360.46 158.49,360.46 159.15,360.46 159.81,360.46 160.47,360.46 161.14,360.46 161.80,360.46 162.47,360.46 163.15,360.46 163.82,360.46 164.50,360.46 165.18,360.46 165.86,360.46 166.54,360.46 167.23,360.46 167.92,360.46 168.61,360.46 169.30,360.46 170.00,360.46 170.69,360.46 171.40,360.46 172.10,360.46 172.80,360.46 173.51,360.46 174.22,360.46 174.93,360.46 175.65,360.46 176.37,360.46 177.09,360.46 177.81,360.46 178.53,360.46 179.26,360.46 179.99,360.46 180.72,360.46 181.45,360.46 182.19,360.46 182.93,360.46 183.67,360.46 184.41,360.46 185.16,360.46 185.91,360.46 186.66,360.46 187.41,360.46 188.17,360.46 188.93,360.46 189.69,360.46 190.45,360.46 191.22,360.46 191.98,360.46 192.75,360.46 193.53,360.46 194.30,360.46 195.08,360.46 195.86,360.46 196.64,360.46 197.43,360.46 198.21,360.46 199.00,360.46 199.80,360.46 200.59,360.46 201.39,360.46 202.19,360.46 202.99,360.46 203.79,360.46 204.60,360.46 205.41,360.46 206.22,360.46 207.03,360.46 207.85,360.46 208.67,360.46 209.49,360.46 210.31,360.46 211.14,360.46 211.97,360.46 212.80,360.46 213.63,360.46 214.47,360.46 215.31,360.46 216.15,360.46 216.99,360.46 217.84,360.46 218.69,360.46 219.54,360.46 220.39,360.46 221.25,360.46 222.11,360.46 222.97,360.46 223.83,360.46 224.70,360.46 225.56,360.46 226.43,360.46 227.31,360.46 228.18,360.46 229.06,360.46 229.94,360.46 230.83,360.46 231.71,360.46 232.60,360.46 233.49,360.46 234.38,360.46 235.28,360.46 236.18,360.46 237.08,360.46 237.98,360.46 238.88,360.46 239.79,360.46 240.70,360.46 241.61,360.46 242.53,360.46 243.45,360.46 244.37,360.46 245.29,360.46 246.22,360.46 247.14,360.46 248.07,360.46 249.01,360.46 249.94,360.46 250.88,360.46 251.82,360.46 252.76,360.46 253.71,360.46 254.66,360.46 255.61,360.46 256.56,360.46 257.52,360.46 258.47,360.46 259.43,360.46 260.40,360.46 261.36,360.46 262.33,360.46 263.30,360.46 264.27,360.46 265.25,360.46 266.23,360.46 267.21,360.46 268.19,360.46 269.18,360.46 270.16,360.46 271.15,360.46 272.15,360.46 273.14,360.46 274.14,360.46 275.14,360.46 276.15,360.46 277.15,360.46 278.16,360.46 279.17,360.46 280.18,360.46 281.20,360.46 282.22,360.46 283.24,360.46 284.26,360.46 285.29,360.46 286.32,360.46 287.35,360.46 288.38,360.46 289.42,360.46 290.46,360.46 291.50,360.46 292.54,360.46 293.59,360.46 294.64,360.46 295.69,360.46 296.74,360.46 297.80,360.46 298.86,360.46 299.92,360.46 300.99,360.46 302.05,360.46 303.12,360.46 304.19,360.46 305.27,360.46 306.35,360.46 307.43,360.46 308.51,360.46 309.59,360.46 310.68,360.46 311.77,360.46 312.86,360.46 313.96,360.46 315.06,360.46 316.16,360.46 317.26,360.46 318.36,360.46 319.47,360.46 320.58,360.46 321.70,360.46 322.81,360.46 323.93,360.46 325.05,360.46 326.17,360.46 327.30,360.46 328.43,360.46 329.56,360.46 330.69,360.46 331.83,360.46 332.97,360.46 334.11,360.46 335.25,360.46 336.40,360.46 337.55,360.46 338.70,360.46 339.86,360.46 341.01,360.46 342.17,360.46 343.34,360.46 344.50,360.46 345.67,360.46 346.84,360.46 348.01,360.46 349.19,360.46 350.36,360.46 351.54,360.46 352.73,360.46 353.91,360.46 355.10,360.46 356.29,360.46 357.49,360.46 358.68,360.46 359.88,360.46 361.08,360.46 362.29,360.46 363.49,360.46 364.70,360.46 365.91,360.46 367.13,360.46 368.34,360.46 369.56,360.46 370.79,360.46 372.01,360.46 373.24,360.46 374.47,360.46 375.70,360.46 376.94,360.46 378.17,360.46 379.41,360.46 380.66,360.46 381.90,360.46 383.15,360.46 384.40,360.46 385.66,360.46 386.91,360.46 388.17,360.46 389.43,360.46 390.70,360.46 391.96,360.46 393.23,360.46 394.50,360.46 395.78,360.46 397.06,360.46 398.34,360.46 399.62,360.46 400.90,360.46 402.19,360.46 403.48,360.46 404.78,360.46 406.07,360.46 407.37,360.46 408.67,360.46 409.97,360.46 411.28,360.46 412.59,360.46 413.90,360.46 415.22,360.46 416.53,360.46 417.85,360.46 419.18,360.46 420.50,360.46" fill="none" stroke="#000" stroke-width="1.5" stroke-dasharray="5 4.6"/>
<path d="M64.83 386.36V393.37M62.63 386.36H67.03M62.63 393.37H67.03" stroke="#333" stroke-width="0.9"/>
<path d="M94.97 369.56V376.09M92.77 369.56H97.17M92.77 376.09H97.17" stroke="#333" stroke-width="0.9"/>
<circle cx="64.83" cy="389.87" r="2.9" fill="#000"/>
<circle cx="70.86" cy="389.63" r="2.9" fill="#000"/>
<circle cx="82.91" cy="380.61" r="2.9" fill="#000"/>
<circle cx="94.97" cy="372.83" r="2.9" fill="#000"/>
<circle cx="131.14" cy="364.35" r="2.9" fill="#000"/>
<circle cx="203.48" cy="351.82" r="2.9" fill="#000"/>
<circle cx="348.16" cy="339.84" r="2.9" fill="#000"/>
<text x="7.8" y="17.0" class="h">(a)</text>
<text x="3" y="294.6" class="h" style="font-size:16px;letter-spacing:0.35px">(b)</text>
<text transform="translate(18,141.0) rotate(-90)" text-anchor="middle" class="yl" style="font-size:14.8px">Adsorbed MB, qe (mg/g)</text>
<text transform="translate(18.8,406.3) rotate(-90)" text-anchor="middle" class="yl">Adsorbed CV, qe (mg/g)</text>
<text x="241" y="272.2" text-anchor="middle" class="xl">Time (h)</text>
<text x="234" y="543.6" text-anchor="middle" class="xl">Time (h)</text>
<line x1="270.2" y1="185.2" x2="295.2" y2="185.2" stroke="#111" stroke-width="1.5" stroke-dasharray="4 1.6"/>
<line x1="270.2" y1="200.7" x2="295.2" y2="200.7" stroke="#111" stroke-width="1.6"/>
<circle cx="282.3" cy="216" r="2.5" fill="#000"/>
<text x="297.7" y="190.2" class="lg">Pseudo 1st order</text>
<text x="297.7" y="205.8" class="lg">Pseudo 2nd order</text>
<text x="297.7" y="221.3" class="lg">Observed</text>
<line x1="262.1" y1="423.1" x2="287" y2="423.1" stroke="#111" stroke-width="1.6" stroke-dasharray="5 4.6"/>
<line x1="262.1" y1="443.6" x2="287.5" y2="443.6" stroke="#111" stroke-width="1.6"/>
<circle cx="274.6" cy="464.2" r="2.8" fill="#000"/>
<text x="290" y="429" class="lg" style="font-size:14.9px">Pseudo 1st order</text>
<text x="290" y="449" class="lg" style="font-size:14.9px">Pseudo 2nd order</text>
<text x="290" y="469.6" class="lg" style="font-size:14.9px">Observed</text>
</svg>
</body></html>
